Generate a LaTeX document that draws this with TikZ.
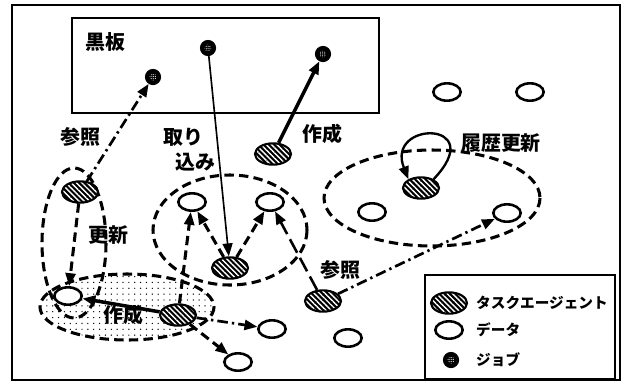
\documentclass[tikz,border=0pt]{standalone}
\usepackage{fontspec}
\setmainfont{Noto Sans CJK JP}
\usepackage{tikz}
\usetikzlibrary{patterns}
\usetikzlibrary{patterns.meta}
\usetikzlibrary{arrows.meta}
\usetikzlibrary{shapes.geometric}

\begin{document}
\begin{tikzpicture}[
    x=0.03cm, y=-0.03cm,
    agent/.style={ellipse, draw, line width=1.8pt, minimum width=1.08cm, minimum height=0.64cm, inner sep=0pt,
        preaction={fill=black}, pattern={Lines[angle=-45,distance=3.2pt,line width=1.2pt]}, pattern color=white},
    datum/.style={ellipse, draw, fill=white, line width=2.2pt, minimum width=0.82cm, minimum height=0.52cm, inner sep=0pt},
    job/.style={circle, draw, fill=black, line width=1pt, minimum size=0.45cm, inner sep=0pt,
        path picture={\fill[pattern={Dots[distance=1.6pt,radius=0.45pt]}, pattern color=white]
            (path picture bounding box.center) circle (3pt);}},
    group/.style={line width=2.6pt, dash pattern=on 8pt off 4.5pt},
    dotfill/.style={pattern={Dots[distance=5pt,radius=0.6pt]}},
    tip/.style={-{Triangle[length=11pt,width=8.5pt]}},
    refarrow/.style={tip, line width=2.3pt, dash pattern=on 9pt off 3.5pt on 2pt off 3.5pt},
    updarrow/.style={tip, line width=2.6pt, dash pattern=on 8pt off 4.5pt},
    longarrow/.style={tip, line width=2.2pt, dash pattern=on 13pt off 5pt},
    makearrow/.style={tip, line width=3pt},
    lbl/.style={font=\bfseries\fontsize{17}{20}\selectfont, inner sep=0pt},
    legtext/.style={font=\bfseries\fontsize{12.5}{15}\selectfont, anchor=west, inner sep=0pt}
]
\useasboundingbox (0,0) rectangle (626,382);
% frame and blackboard
\draw [line width=1.5pt] (12,5) rectangle (620,380);
\draw [line width=2.2pt] (72,18) rectangle (379,113);
\node [lbl] at (105,42) (board) {黒板};
% groups
\draw [group, dotfill] (127,307) ellipse [x radius=87, y radius=33];
\draw [group] (74,243) ellipse [x radius=32, y radius=75];
\draw [group] (230,230) ellipse [x radius=77, y radius=55];
\draw [group] (432,198) ellipse [x radius=108, y radius=48];
% jobs
\node [job] at (153,77) (job1) {};
\node [job] at (208,48) (job2) {};
\node [job] at (323,54) (job3) {};
% agents
\node [agent] at ( 80,192) (agul) {};
\node [agent] at (273,154) (agtop) {};
\node [agent] at (421,188) (aghist) {};
\node [agent] at (230,268) (agmid) {};
\node [agent] at (178,315) (agdot) {};
\node [agent] at (323,301) (agref) {};
% data
\node [datum] at (447, 92) (dtr1) {};
\node [datum] at (530, 92) (dtr2) {};
\node [datum] at (192,202) (dml) {};
\node [datum] at (270,202) (dmr) {};
\node [datum] at (372,212) (dhl) {};
\node [datum] at (507,213) (dhr) {};
\node [datum] at ( 68,296) (ddot) {};
\node [datum] at (272,329) (db1) {};
\node [datum] at (238,362) (db2) {};
\node [datum] at (348,338) (db3) {};
% arrows
\draw [refarrow] (agul)--(job1);
\draw [tip, line width=1.4pt] (job2)--(agmid);
\draw [makearrow] (agtop)--(job3);
\draw [updarrow] (agul)--(ddot);
\draw [makearrow] (agdot)--(ddot);
\draw [updarrow] (agdot)--(dml);
\draw [updarrow] (agmid)--(dml);
\draw [updarrow] (agmid)--(dmr);
\draw [longarrow] (agref)--(dmr);
\draw [refarrow] (agref)--(dhr);
\draw [refarrow] (agdot)--(db1);
\draw [updarrow] (agdot)--(db2);
\draw [tip, line width=2pt] (aghist.35) .. controls (490,120) and (385,120) .. (aghist.145);
% labels
\node [lbl] at ( 80,137) (ref1) {参照};
\node [lbl] at (183,137) (take1) {取り};
\node [lbl] at (195,162) (take2) {込み};
\node [lbl] at (322,134) (make1) {作成};
\node [lbl] at (501,143) (hist) {履歴更新};
\node [lbl] at (108,235) (upd) {更新};
\node [lbl] at (123,315) (make2) {作成};
\node [lbl] at (340,270) (ref2) {参照};
% legend
\draw [line width=1.6pt, fill=white] (425,275) rectangle (615,379);
\node [agent] at (449,303) (legag) {};
\node [datum] at (449,330) (legdt) {};
\node [job] at (451,360) (legjb) {};
\node [legtext] at (476,303) (legagt) {タスクエージェント};
\node [legtext] at (476,330) (legdtt) {データ};
\node [legtext] at (476,360) (legjbt) {ジョブ};
\end{tikzpicture}
\end{document}
